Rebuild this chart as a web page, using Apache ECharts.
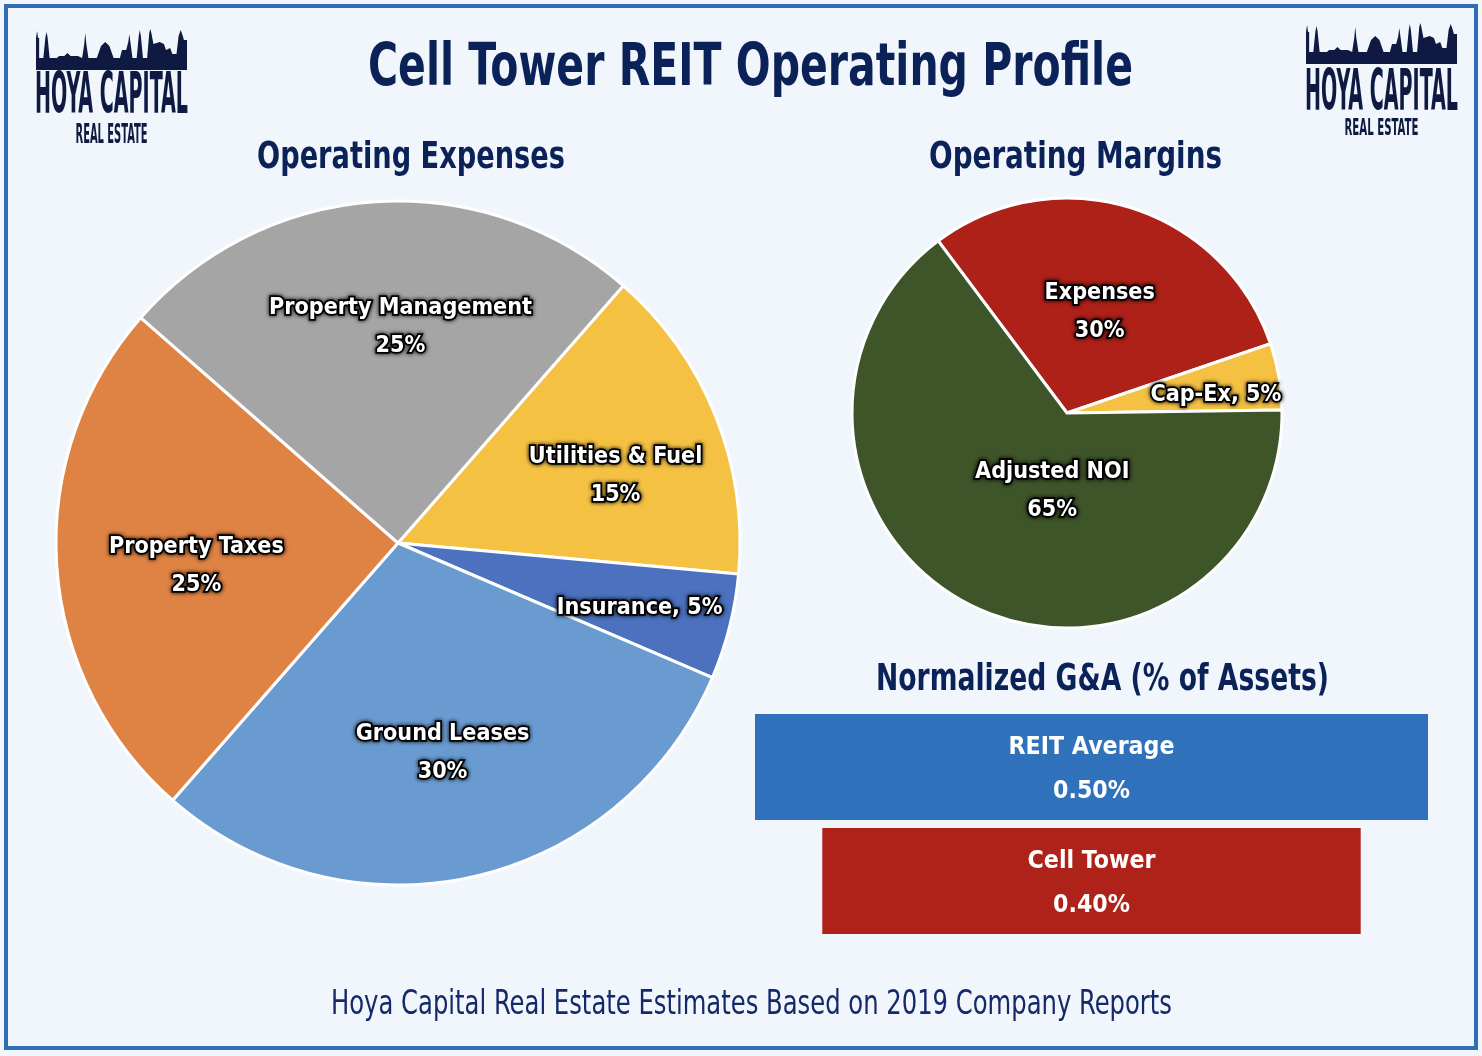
<!DOCTYPE html>
<html>
<head>
<meta charset="utf-8">
<script src="https://cdn.jsdelivr.net/npm/echarts@6/dist/echarts.min.js"></script>
<style>
html,body{margin:0;padding:0;background:#f0f6fc;}
#chart{width:1482px;height:1056px;}
</style>
</head>
<body>
<div id="chart"></div>
<script>
// ---------------- DATA ----------------
const expenseCategories = ['Utilities & Fuel', 'Insurance', 'Ground Leases', 'Property Taxes', 'Property Management'];
const expenseValues = [15, 5, 30, 25, 25];

const marginCategories = ['Expenses', 'Cap-Ex', 'Adjusted NOI'];
const marginValues = [30, 5, 65];

const gaCategories = ['REIT Average', 'Cell Tower'];
const gaValues = [0.50, 0.40];

// ---------------- TEXT ----------------
const titleText = 'Cell Tower REIT Operating Profile';
const leftTitle = 'Operating Expenses';
const rightTitle = 'Operating Margins';
const gaTitle = 'Normalized G&A (% of Assets)';
const footerText = 'Hoya Capital Real Estate Estimates Based on 2019 Company Reports';
const inlineLabels = ['Insurance', 'Cap-Ex'];

// ---------------- STYLE ----------------
const expenseColors = ['#f4c143', '#4b71bf', '#6a9bd0', '#df8344', '#a5a5a5'];
const marginColors = ['#ae2119', '#f4c143', '#3e5429'];
const gaColors = ['#2f71ba', '#ae2219'];
const navy = '#0b2259';
const logoNavy = '#0e1a42';
const expenseNudge = [[56, -2], [73, 22], [6, 40], [-28, 11], [14, -42]];
const marginNudge = [[0, 5], [40, 1], [34, -21]];
const VY = 4;

// font detection
const mctx = document.createElement('canvas').getContext('2d');
function hasFont(name) {
  const t = 'Cell Tower REIT Operating Profile 0123';
  mctx.font = '40px monospace'; const a = mctx.measureText(t).width;
  mctx.font = `40px '${name}', monospace`; const b = mctx.measureText(t).width;
  mctx.font = '40px serif'; const c = mctx.measureText(t).width;
  mctx.font = `40px '${name}', serif`; const d = mctx.measureText(t).width;
  return a !== b || c !== d;
}
const FONT = hasFont('Liberation Sans Narrow') ? "'Liberation Sans Narrow'"
  : hasFont('DejaVu Sans Condensed') ? "'DejaVu Sans Condensed'" : "'Roboto'";
function textW(t, size, weight) {
  mctx.font = `${weight} ${size}px ${FONT}, sans-serif`;
  return mctx.measureText(t).width;
}
const CAP = 0.72;
function fitted(t, capH, targetW, weight) {
  const size = capH / CAP;
  return { size: size, sx: targetW / textW(t, size, weight) };
}
function labelSize(t, capH, targetW, weight) {
  const size = capH / CAP;
  const w = textW(t, size, weight);
  return Math.min(size, size * targetW / w);
}

function gText(t, cx, cy, capH, targetW, weight, color) {
  const f = fitted(t, capH, targetW, weight);
  return {
    type: 'text', x: cx, y: cy + VY, scaleX: f.sx, silent: true,
    style: {
      text: t, x: 0, y: 0, align: 'center', verticalAlign: 'middle',
      fontFamily: FONT + ', sans-serif', fontWeight: weight, fontSize: f.size, fill: color
    }
  };
}

// skyline (logo decoration), local 144 x 40
const skyline = [[0,40],[0,8],[1,1],[2,8],[3,8],[3,28],[7,28],[9,7],[10,2],[11,7],[13,28],[20,28],[22,26],[27,26],[30,23],[33,26],[40,26],[44,28],[46,14],[47,3],[48,14],[50,28],[58,28],[60,22],[62,16],[66,12],[70,16],[72,22],[74,28],[80,28],[82,20],[86,20],[88,12],[89,4],[90,12],[92,28],[96,28],[98,6],[99,0],[100,6],[102,28],[106,28],[108,3],[109,-1],[110,3],[112,14],[118,12],[122,14],[124,20],[128,18],[130,24],[134,24],[136,6],[138,0],[140,6],[141,10],[144,10],[144,40]];
function logo(x, y, w, hoyaCy, hoyaCap, realCy, realCap, realW) {
  const cx = x + w / 2;
  return [
    { type: 'polygon', x: x, y: y, scaleX: w / 144, scaleY: 1, silent: true,
      shape: { points: skyline }, style: { fill: logoNavy } },
    gText('HOYA CAPITAL', cx, hoyaCy, hoyaCap, w + 2, 'bold', logoNavy),
    gText('REAL ESTATE', cx, realCy, realCap, realW, 'bold', logoNavy)
  ];
}

const pieLabelSize = labelSize('Property Management', 18.5, 263, 'bold');
const barLabelSize = labelSize('REIT Average', 21, 166, 'bold');

const pieLabel = {
  show: true, position: 'inside', color: '#fff', fontWeight: 'bold',
  fontFamily: FONT + ', sans-serif', fontSize: pieLabelSize, lineHeight: 38,
  textBorderColor: '#000', textBorderWidth: 3.5,
  textShadowColor: 'rgba(0,0,0,0.85)', textShadowBlur: 4,
  formatter: p => inlineLabels.indexOf(p.name) >= 0 ? p.name + ', ' + p.value + '%' : p.name + '\n' + p.value + '%'
};

const gaMax = Math.max(...gaValues);

const chart = echarts.init(document.getElementById('chart'), null, { renderer: 'canvas' });
chart.setOption({
  backgroundColor: '#f0f6fc',
  animation: false,
  grid: { left: 755, width: 673, top: 710, height: 228 },
  xAxis: { type: 'value', min: 0, max: gaMax, show: false },
  yAxis: { type: 'category', data: gaCategories, inverse: true, show: false },
  series: [
    {
      type: 'pie', name: 'Operating Expenses',
      center: [398, 543], radius: [0, 342], startAngle: 48.8, clockwise: true,
      silent: true,
      data: expenseCategories.map((n, i) => ({ name: n, value: expenseValues[i], itemStyle: { color: expenseColors[i] } })),
      itemStyle: { borderColor: '#fff', borderWidth: 3 },
      label: pieLabel, labelLine: { show: false },
      labelLayout: p => ({ dx: expenseNudge[p.dataIndex][0], dy: expenseNudge[p.dataIndex][1] }),
      emphasis: { disabled: true }
    },
    {
      type: 'pie', name: 'Operating Margins',
      center: [1067, 413], radius: [0, 215], startAngle: 126.8, clockwise: true,
      silent: true,
      data: marginCategories.map((n, i) => ({ name: n, value: marginValues[i], itemStyle: { color: marginColors[i] } })),
      itemStyle: { borderColor: '#fff', borderWidth: 3 },
      label: pieLabel, labelLine: { show: false },
      labelLayout: p => ({ dx: marginNudge[p.dataIndex][0], dy: marginNudge[p.dataIndex][1] }),
      emphasis: { disabled: true }
    },
    {
      type: 'bar', name: 'spacer', stack: 'ga', barWidth: 106, silent: true,
      data: gaValues.map(v => (gaMax - v) / 2),
      itemStyle: { color: 'rgba(0,0,0,0)' },
      emphasis: { disabled: true }
    },
    {
      type: 'bar', name: 'G&A', stack: 'ga', barWidth: 106, silent: true,
      data: gaValues.map((v, i) => ({ value: v, itemStyle: { color: gaColors[i] } })),
      label: {
        show: true, position: 'inside', color: '#fff', fontWeight: 'bold',
        fontFamily: FONT + ', sans-serif', fontSize: barLabelSize, lineHeight: 44,
        formatter: p => p.name + '\n' + p.value.toFixed(2) + '%'
      },
      labelLayout: { dy: 3 },
      emphasis: { disabled: true }
    }
  ],
  graphic: [
    { type: 'rect', silent: true, shape: { x: 6, y: 6, width: 1470, height: 1042 },
      style: { fill: 'none', stroke: '#2f6db5', lineWidth: 4 } },
    gText(titleText, 750.5, 66, 42, 765, 'bold', navy),
    gText(leftTitle, 411, 154, 27, 308, 'bold', navy),
    gText(rightTitle, 1075.5, 154, 27, 293, 'bold', navy),
    gText(gaTitle, 1102.5, 676, 27, 453, 'bold', navy),
    gText(footerText, 751.5, 1001, 24, 841, 'normal', '#14296a'),
    ...logo(36, 30, 151, 94, 41, 132, 19, 72),
    ...logo(1306, 24, 151, 91, 41, 125, 16, 74)
  ]
});
</script>
</body>
</html>
